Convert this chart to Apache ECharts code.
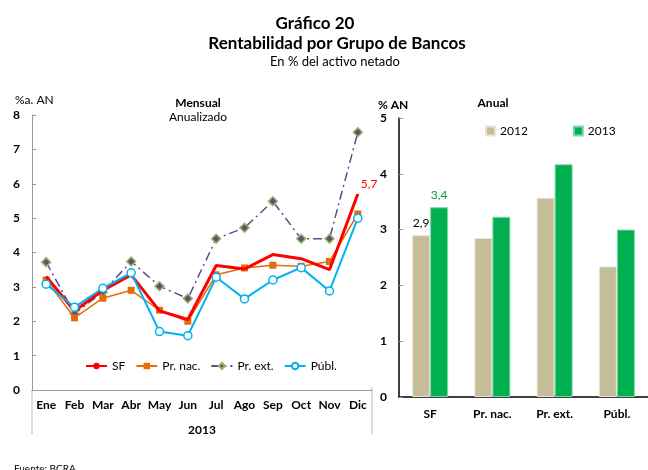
<!DOCTYPE html>
<html>
<head>
<meta charset="utf-8">
<script src="https://cdn.jsdelivr.net/npm/echarts@6/dist/echarts.min.js"></script>
<style>
  html, body { margin: 0; padding: 0; background: #fff; }
  #chart { width: 648px; height: 470px; }
</style>
</head>
<body>
<div id="chart"></div>
<script>
// datos mensuales 2013 (% a. anualizado)
var meses = ['Ene', 'Feb', 'Mar', 'Abr', 'May', 'Jun', 'Jul', 'Ago', 'Sep', 'Oct', 'Nov', 'Dic'];
var sf     = [3.3, 2.3, 2.9, 3.35, 2.3, 2.05, 3.62, 3.52, 3.94, 3.82, 3.5, 5.7];
var prNac  = [3.2, 2.1, 2.67, 2.9, 2.32, 2.0, 3.35, 3.55, 3.63, 3.6, 3.74, 5.12];
var prExt  = [3.72, 2.22, 2.85, 3.74, 3.02, 2.66, 4.4, 4.72, 5.49, 4.4, 4.4, 7.5];
var publ   = [3.08, 2.41, 2.96, 3.41, 1.7, 1.58, 3.28, 2.65, 3.2, 3.56, 2.88, 5.0];

// datos anuales
var grupos = ['SF', 'Pr. nac.', 'Pr. ext.', 'Públ.'];
var anual2012 = [2.9, 2.85, 3.57, 2.34];
var anual2013 = [3.4, 3.23, 4.17, 3.0];

var font = 'Lato';
var chart = echarts.init(document.getElementById('chart'));

chart.setOption({
  backgroundColor: '#fff',
  textStyle: { fontFamily: font },
  title: [
    { text: 'Gráfico 20', left: 310, top: 10, textAlign: 'center',
      textStyle: { fontSize: 17, fontWeight: 'bold', color: '#000', fontFamily: font } },
    { text: 'Rentabilidad por Grupo de Bancos', left: 332, top: 30, textAlign: 'center',
      textStyle: { fontSize: 17, fontWeight: 'bold', color: '#000', fontFamily: font } },
    { text: 'En % del activo netado', left: 330, top: 50, textAlign: 'center',
      textStyle: { fontSize: 13, fontWeight: 'normal', color: '#000', fontFamily: font } },
    { text: 'Mensual', left: 193, top: 92, textAlign: 'center',
      textStyle: { fontSize: 12, fontWeight: 'bold', color: '#000', fontFamily: font } },
    { text: 'Anualizado', left: 193, top: 106, textAlign: 'center',
      textStyle: { fontSize: 12, fontWeight: 'normal', color: '#000', fontFamily: font } },
    { text: '%a. AN', left: 10, top: 89,
      textStyle: { fontSize: 12, fontWeight: 'normal', color: '#000', fontFamily: font } },
    { text: 'Anual', left: 488, top: 92, textAlign: 'center',
      textStyle: { fontSize: 12, fontWeight: 'bold', color: '#000', fontFamily: font } },
    { text: '% AN', left: 373, top: 94,
      textStyle: { fontSize: 12, fontWeight: 'bold', color: '#000', fontFamily: font } },
    { text: 'Fuente: BCRA', left: 9, top: 459,
      textStyle: { fontSize: 10, fontWeight: 'normal', color: '#000', fontFamily: font } }
  ],
  legend: [
    {
      data: ['SF', 'Pr. nac.', 'Pr. ext.', 'Públ.'],
      left: 80, top: 355, itemWidth: 21, itemHeight: 8, itemGap: 10,
      textStyle: { fontSize: 12, color: '#000', fontFamily: font }
    },
    {
      data: ['2012', '2013'],
      left: 480, top: 120, itemWidth: 9, itemHeight: 9, itemGap: 45,
      icon: 'rect',
      textStyle: { fontSize: 12, color: '#000', fontFamily: font }
    }
  ],
  grid: [
    { left: 32, width: 340, top: 115, height: 275 },
    { left: 399, right: -5, top: 118, height: 279 }
  ],
  xAxis: [
    {
      type: 'category', gridIndex: 0, data: meses,
      name: '2013', nameLocation: 'middle', nameGap: 34,
      nameTextStyle: { fontSize: 12, fontWeight: 'bold', color: '#000', fontFamily: font },
      axisLine: { lineStyle: { color: '#999' } },
      axisTick: { alignWithLabel: true, inside: true, length: 4, lineStyle: { color: '#999' } },
      axisLabel: { fontSize: 12, fontWeight: 'bold', color: '#000', margin: 9, interval: 0 }
    },
    {
      type: 'category', gridIndex: 1, data: grupos,
      axisLine: { lineStyle: { color: '#000', width: 1.5 } },
      axisTick: { show: false },
      axisLabel: { fontSize: 12, fontWeight: 'bold', color: '#000', margin: 11, interval: 0 }
    }
  ],
  yAxis: [
    {
      type: 'value', gridIndex: 0, min: 0, max: 8, interval: 1,
      axisLine: { show: true, lineStyle: { color: '#999' } },
      axisTick: { show: true, inside: true, length: 4, lineStyle: { color: '#999' } },
      axisLabel: { fontSize: 12, fontWeight: 'bold', color: '#000', margin: 12 },
      splitLine: { show: false }
    },
    {
      type: 'value', gridIndex: 1, min: 0, max: 5, interval: 1,
      axisLine: { show: true, lineStyle: { color: '#000', width: 1.5 } },
      axisTick: { show: true, inside: true, length: 4, lineStyle: { color: '#999' } },
      axisLabel: { fontSize: 12, fontWeight: 'bold', color: '#000', margin: 12 },
      splitLine: { show: false }
    }
  ],
  graphic: [
    { type: 'line', shape: { x1: 32, y1: 390, x2: 32, y2: 434 }, style: { stroke: '#bbb', lineWidth: 1 } },
    { type: 'line', shape: { x1: 372, y1: 387, x2: 372, y2: 434 }, style: { stroke: '#bbb', lineWidth: 1 } }
  ],
  series: [
    {
      name: 'Pr. ext.', type: 'line', xAxisIndex: 0, yAxisIndex: 0, data: prExt, z: 2,
      symbol: 'diamond', symbolSize: 9, showSymbol: true,
      lineStyle: { color: '#5f4b8b', width: 1.5, type: [9, 4, 2, 4] },
      itemStyle: { color: '#5f4b8b', borderColor: '#9bbb59', borderWidth: 1.5 }
    },
    {
      name: 'Pr. nac.', type: 'line', xAxisIndex: 0, yAxisIndex: 0, data: prNac, z: 3,
      symbol: 'rect', symbolSize: 7,
      lineStyle: { color: '#e46c0a', width: 1.5 },
      itemStyle: { color: '#e46c0a' }
    },
    {
      name: 'SF', type: 'line', xAxisIndex: 0, yAxisIndex: 0, data: sf, z: 4,
      showSymbol: true, symbol: 'circle', symbolSize: 0,
      lineStyle: { color: '#ff0000', width: 3 },
      itemStyle: { color: '#ff0000' },
      label: {
        show: true, position: 'right', distance: 3, offset: [0, -10],
        formatter: function (p) { return p.dataIndex === 11 ? '5,7' : ''; },
        color: '#ff0000', fontSize: 12, fontFamily: font
      }
    },
    {
      name: 'Públ.', type: 'line', xAxisIndex: 0, yAxisIndex: 0, data: publ, z: 5,
      symbol: 'circle', symbolSize: 8,
      lineStyle: { color: '#00b0f0', width: 2 },
      itemStyle: { color: '#fff', borderColor: '#00b0f0', borderWidth: 1.5 }
    },
    {
      name: '2012', type: 'bar', xAxisIndex: 1, yAxisIndex: 1, data: anual2012,
      barWidth: 18, barGap: '0%',
      itemStyle: { color: '#c4bd97', borderColor: '#e8e5d6', borderWidth: 1 },
      label: {
        show: true, position: 'top', distance: 6,
        formatter: function (p) { return p.dataIndex === 0 ? '2,9' : ''; },
        color: '#000', fontSize: 12, fontFamily: font
      }
    },
    {
      name: '2013', type: 'bar', xAxisIndex: 1, yAxisIndex: 1, data: anual2013,
      barWidth: 18,
      itemStyle: { color: '#00b050', borderColor: '#7fd7a7', borderWidth: 1 },
      label: {
        show: true, position: 'top', distance: 6,
        formatter: function (p) { return p.dataIndex === 0 ? '3,4' : ''; },
        color: '#00a040', fontSize: 12, fontFamily: font
      }
    }
  ]
});
</script>
</body>
</html>
